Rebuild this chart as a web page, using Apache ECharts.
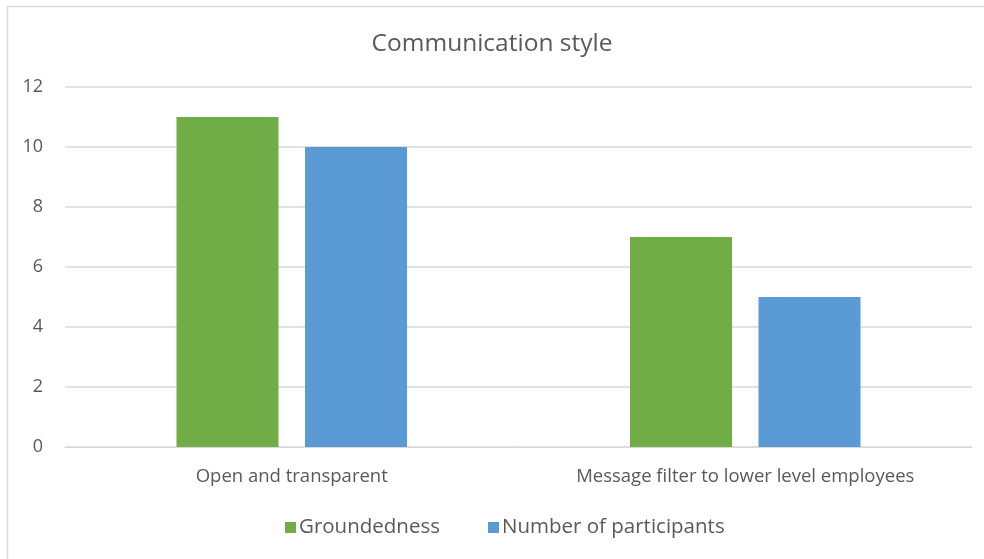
<!DOCTYPE html>
<html>
<head>
<meta charset="utf-8">
<script src="https://cdn.jsdelivr.net/npm/echarts@6/dist/echarts.min.js"></script>
<style>
  html, body { margin: 0; padding: 0; background: #fff; }
  #chart { width: 984px; height: 559px; }
</style>
</head>
<body>
<div id="chart"></div>
<script>
// Communication style: groundedness vs. number of participants
const categories = ['Open and transparent', 'Message filter to lower level employees'];
const groundedness = [11, 7];
const participants = [10, 5];
const yTicks = [0, 2, 4, 6, 8, 10, 12];

const textColor = '#595959';
const fontFamily = '"Open Sans", "Liberation Sans", sans-serif';

const chart = echarts.init(document.getElementById('chart'));
chart.setOption({
  animation: false,
  backgroundColor: '#fff',
  textStyle: { fontFamily: fontFamily, color: textColor },
  graphic: [{
    type: 'rect',
    shape: { x: 7.5, y: 6.5, width: 1000, height: 600 },
    style: { fill: 'none', stroke: '#d9d9d9', lineWidth: 1.5 },
    silent: true
  }],
  title: {
    text: 'Communication style',
    left: 'center',
    top: 27,
    textStyle: { fontFamily: fontFamily, fontSize: 24.5, fontWeight: 'normal', color: textColor }
  },
  legend: {
    left: 280,
    top: 512,
    itemWidth: 11,
    itemHeight: 11,
    itemGap: 48,
    icon: 'rect',
    textStyle: { fontFamily: fontFamily, fontSize: 20.5, color: textColor, padding: [0, 0, 0, -2] },
    data: ['Groundedness', 'Number of participants']
  },
  grid: { left: 65, right: 12, top: 87, bottom: 112 },
  xAxis: {
    type: 'category',
    data: categories,
    axisLine: { show: true, lineStyle: { color: '#d9d9d9' } },
    axisTick: { show: false },
    axisLabel: { fontFamily: fontFamily, fontSize: 18.5, color: textColor, margin: 20 }
  },
  yAxis: {
    type: 'value',
    min: yTicks[0],
    max: yTicks[yTicks.length - 1],
    interval: 2,
    axisLine: { show: false },
    axisTick: { show: false },
    axisLabel: { fontFamily: fontFamily, fontSize: 18, color: textColor, margin: 22, align: 'right' },
    splitLine: { lineStyle: { color: '#d9d9d9', width: 1.5 } }
  },
  series: [
    {
      name: 'Groundedness',
      type: 'bar',
      data: groundedness,
      barWidth: 102,
      barGap: '26%',
      itemStyle: { color: '#70AD47' }
    },
    {
      name: 'Number of participants',
      type: 'bar',
      data: participants,
      barWidth: 102,
      itemStyle: { color: '#5B9BD5' }
    }
  ]
});
</script>
</body>
</html>
